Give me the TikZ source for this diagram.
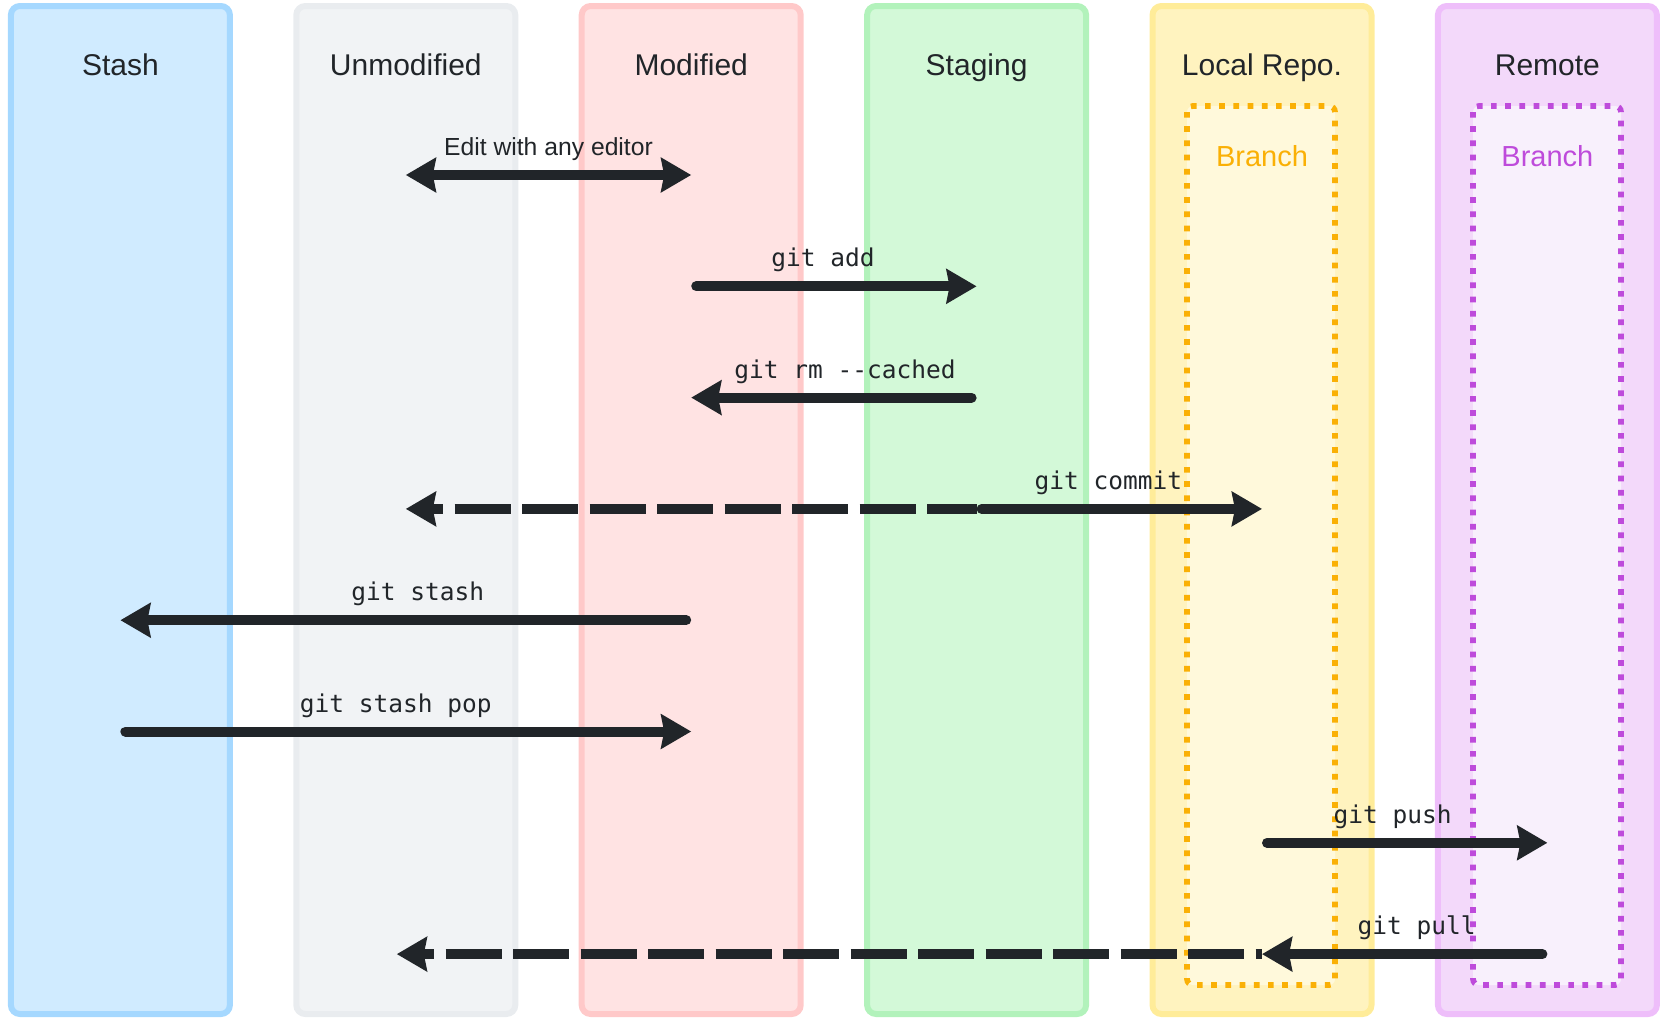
\documentclass[tikz,border=0pt]{standalone}
\usepackage{fontspec}
\setmainfont{Liberation Sans}
\newfontfamily\codefont{DejaVu Sans Mono}
\usetikzlibrary{arrows.meta}

\definecolor{ink}{HTML}{212529}
\definecolor{stashbg}{HTML}{D0EBFF}
\definecolor{stashline}{HTML}{A5D8FF}
\definecolor{unmodbg}{HTML}{F1F3F5}
\definecolor{unmodline}{HTML}{E9ECEF}
\definecolor{modbg}{HTML}{FFE3E3}
\definecolor{modline}{HTML}{FFC9C9}
\definecolor{stagebg}{HTML}{D3F9D8}
\definecolor{stageline}{HTML}{B2F2BB}
\definecolor{localbg}{HTML}{FFF3BF}
\definecolor{localline}{HTML}{FFEC99}
\definecolor{remotebg}{HTML}{F3D9FA}
\definecolor{remoteline}{HTML}{EEBEFA}
\definecolor{localbranch}{HTML}{FFF9DB}
\definecolor{localdot}{HTML}{FAB005}
\definecolor{remotebranch}{HTML}{F8F0FC}
\definecolor{remotedot}{HTML}{BE4BDB}

\tikzset{
  >={Stealth[length=30pt,width=34pt,inset=3pt]},
  lane/.style={line width=6pt, rounded corners=9pt},
  lanetitle/.style={text=ink, anchor=base, font=\fontsize{30}{34}\selectfont},
  branchbox/.style={line width=5.7pt, dash pattern=on 5.7pt off 8.5pt, rounded corners=6pt},
  branchtitle/.style={anchor=base, font=\fontsize{29}{34}\selectfont},
  flow/.style={line width=10pt, draw=ink, line cap=round, shorten <=5pt},
  flowback/.style={line width=10pt, draw=ink, line cap=butt, dash pattern=on 56pt off 11.5pt, dash phase=44pt},
  cmd/.style={text=ink, font=\codefont\fontsize{24.5}{28}\selectfont, yshift=26pt},
  note/.style={text=ink, font=\fontsize{24.7}{28}\selectfont, yshift=26pt},
}

\begin{document}
\begin{tikzpicture}[x=1pt, y=-1pt]
    \useasboundingbox (0,0) rectangle (1665,1020);

    % Columnas con sus titulos y puntos de cada fila
    \foreach \n/\fillc/\linec/\txt [count=\i from 0] in {stash/stashbg/stashline/Stash, unmod/unmodbg/unmodline/Unmodified, mod/modbg/modline/Modified, stage/stagebg/stageline/Staging, local/localbg/localline/Local Repo., remote/remotebg/remoteline/Remote} {
        \draw[lane, draw=\linec, fill=\fillc] ({120.4+285.4*\i-109.5},6) rectangle ({120.4+285.4*\i+109.5},1014);
        \node[lanetitle] (\n-title) at ({120.4+285.4*\i},75) {\txt};
        \foreach \k in {1,...,8}
            \coordinate (\n-\k) at ({120.4+285.4*\i},{175+111.3*(\k-1)});
    }

    % Ramas (punteadas)
    \draw[branchbox, draw=localdot, fill=localbranch] (1187,106) rectangle (1335,985);
    \node[branchtitle, text=localdot] (local-branch) at (1262,166) {Branch};
    \draw[branchbox, draw=remotedot, fill=remotebranch] (1473,106) rectangle (1621,985);
    \node[branchtitle, text=remotedot] (remote-branch) at (1547.4,166) {Branch};

    % Flechas
    \draw[flow, shorten <=0pt, <->] (unmod-1) -- node[note]{Edit with any editor} (mod-1);
    \draw[flow, ->] (mod-2) -- node[cmd, xshift=-11pt]{git add} (stage-2);
    \draw[flow, ->] (stage-3) -- node[cmd, xshift=11pt]{git rm -\kern0pt-cached} (mod-3);
    \draw[flowback, <-] (unmod-4) -- (stage-4);
    \draw[flow, ->] (stage-4) -- node[cmd, xshift=-11pt]{git commit} (local-4);
    \draw[flow, ->] (mod-5) -- node[cmd, xshift=12pt]{git stash} (stash-5);
    \draw[flow, ->] (stash-6) -- node[cmd, xshift=-10pt]{git stash pop} (mod-6);
    \draw[flow, ->] (local-7) -- node[cmd, xshift=-12pt]{git push} (remote-7);
    \draw[flowback, <-] ([xshift=-9pt]unmod-8) -- (local-8); % sigue hasta unmodified
    \draw[flow, ->] (remote-8) -- node[cmd, xshift=12pt]{git pull} (local-8);

\end{tikzpicture}
\end{document}
